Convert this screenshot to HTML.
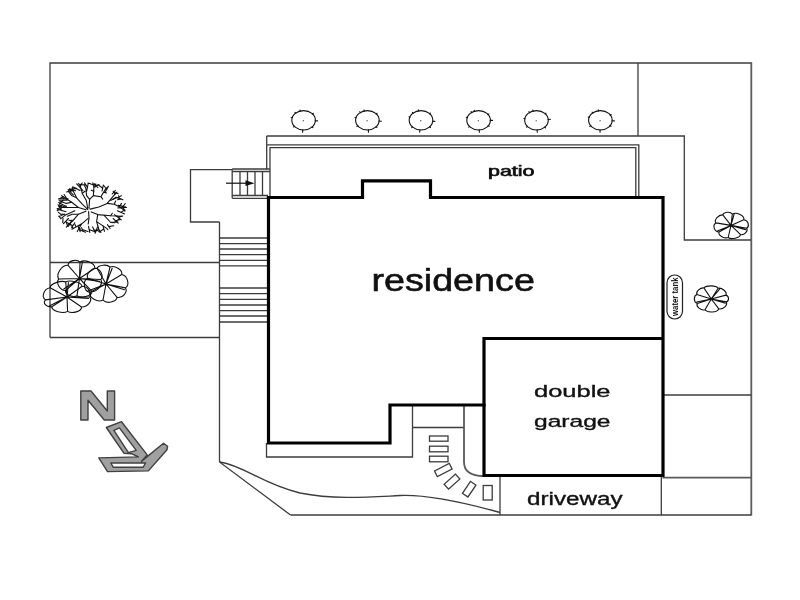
<!DOCTYPE html>
<html>
<head>
<meta charset="utf-8">
<title>Site plan</title>
<style>
html,body{margin:0;padding:0;background:#fff;}
body{width:800px;height:600px;overflow:hidden;font-family:"Liberation Sans",sans-serif;}
svg{display:block;}
text{font-family:"Liberation Sans",sans-serif;fill:#111;}
.t{stroke:#3c3c3c;stroke-width:1.3;fill:none;}
.g{stroke:#5a5a5a;stroke-width:1.8;fill:none;}
.k{stroke:#000;stroke-width:3.2;fill:none;stroke-linejoin:miter;stroke-linecap:square;}
.tr{stroke:#111;stroke-width:1.1;fill:none;stroke-linecap:round;stroke-linejoin:round;}
</style>
</head>
<body>
<svg width="800" height="600" viewBox="0 0 800 600">
<defs><filter id="gs" x="-5%" y="-20%" width="110%" height="140%" color-interpolation-filters="sRGB"><feColorMatrix type="saturate" values="0"/></filter></defs>
<rect width="800" height="600" fill="#fff"/>

<!-- site boundary -->
<g id="boundary">
<path class="t" stroke-width="1.5" d="M50 337.5V63H751.3"/>
<path class="g" stroke-width="2.2" stroke="#505050" d="M751.3 62.3V515.6"/>
<path class="t" d="M290.5 515H751.3"/>
<path class="t" d="M50 262.5H219.5"/>
<path class="t" d="M50 337.5H219.5"/>
<path class="t" d="M219.5 222V462L290.5 515"/>
<path class="t" d="M220 462C245 466 262 484 300 493C335 500 370 497 400 495.5C425 494.5 455 500 500 512.5"/>
</g>

<!-- right yard -->
<g id="rightyard">
<path class="t" d="M638 63V136"/>
<path class="t" d="M266.7 136H684.3V240H751"/>
<path class="t" d="M662.5 395H751"/>
<path class="g" d="M662.5 477.6H751"/>
<path class="t" d="M661.3 476V515"/>
<path class="t" d="M500 476V515"/>
</g>

<!-- patio -->
<g id="patio">
<path class="t" d="M266.7 169.5V136"/>
<path class="t" stroke="#666" d="M266.7 144.8H638.8V197"/>
<path class="t" stroke="#666" d="M270 197V147.6H635.8V197"/>
</g>

<!-- landing and stairs -->
<g id="landing">
<path class="t" d="M232 169.7H190.5V222H219.5"/>
<path class="t" d="M232.2 169H270M232.2 171.5H270M232.2 195.5H268M232.2 198.3H268"/>
<path class="t" d="M232.2 169V198.3M240 171.5V195.5M247.5 171.5V195.5M255 171.5V195.5M262.5 171.5V195.5"/>
<path d="M226 183.2H248" stroke="#111" stroke-width="1.2"/>
<path d="M245.5 180.3L254.5 183.2L245.5 186.1Z" fill="#111"/>
<path class="t" stroke-width="1.1" d="M219.5 238H267M219.5 243.7H267M219.5 249H267M219.5 254.6H267M219.5 260.4H267M219.5 265.8H267"/>
<path class="t" stroke-width="1.1" d="M219.5 288H267M219.5 293.7H267M219.5 299.4H267M219.5 305H267M219.5 316H267M219.5 322H267"/>
<path class="t" stroke-width="1.8" stroke="#222" d="M219.5 310.6H267"/>
</g>

<!-- front path -->
<g id="front">
<path class="t" d="M266.5 443V457H412.5V405"/>
<path class="t" d="M412.5 427.5H464"/>
<path class="g" stroke-width="1.9" stroke="#3c3c3c" d="M464 405V462C464 471 470 476 484 476"/>
<g class="t" stroke-width="1.35" stroke="#1c1c1c">
<rect x="429.5" y="436" width="18.5" height="5.2"/>
<rect x="429.5" y="446.2" width="18.5" height="5.6"/>
<rect x="429.5" y="456.2" width="18.5" height="5.6"/>
<rect x="-8.3" y="-3.1" width="16.6" height="6.2" transform="translate(443.3 470) rotate(-27)"/>
<rect x="-7.6" y="-3.3" width="15.2" height="6.6" transform="translate(452 481.6) rotate(-42)"/>
<rect x="-7.2" y="-3.3" width="14.4" height="6.6" transform="translate(469.2 489.2) rotate(-56)"/>
<rect x="483.2" y="485.5" width="9" height="14.5"/>
</g>
</g>

<!-- building outline -->
<g id="building">
<path class="k" d="M268.5 197.5H362.5V180.8H430.5V197.5H663V475.5H484V338.5H663"/>
<path class="k" d="M268.5 197.5V443H390V405H484"/>
</g>

<!-- labels -->
<g id="labels" filter="url(#gs)">
<text x="488" y="175.6" font-size="14.2" stroke="#111" stroke-width="0.65" textLength="46.5" lengthAdjust="spacingAndGlyphs">patio</text>
<text x="371.4" y="290.6" font-size="30.6" stroke="#111" stroke-width="0.55" textLength="163.5" lengthAdjust="spacingAndGlyphs">residence</text>
<text x="534" y="397" font-size="17.2" stroke="#111" stroke-width="0.35" textLength="76.5" lengthAdjust="spacingAndGlyphs">double</text>
<text x="534" y="426.5" font-size="17.2" stroke="#111" stroke-width="0.35" textLength="76.5" lengthAdjust="spacingAndGlyphs">garage</text>
<text x="527" y="505" font-size="17.5" stroke="#111" stroke-width="0.35" textLength="95.5" lengthAdjust="spacingAndGlyphs">driveway</text>
</g>

<!-- water tank -->
<g id="tank">
<rect x="667" y="275" width="15.5" height="44" rx="7.7" ry="7.7" fill="#fff" stroke="#222" stroke-width="1.2"/>
<text transform="translate(678 316) rotate(-90)" font-size="8.5" font-weight="bold" filter="url(#gs)" textLength="38.5" lengthAdjust="spacingAndGlyphs" fill="#222">water tank</text>
</g>

<!-- shrubs -->
<g transform="translate(303.6 120.3)">
<ellipse cx="0" cy="0" rx="11.8" ry="9.7" class="tr" stroke-width="1.5" stroke="#1a1a1a"/>
<circle cx="-0.3" cy="0.4" r="0.7" fill="#555"/>
<path d="M-0.8 9.5L-1.0 11.9M11.5 0.5L14.0 0.6M-9.0 6.0L-10.0 6.7M8.7 -6.2L9.7 -7.0M-11.2 -2.5L-12.4 -2.8M-3.2 -9.1L-3.6 -10.3M8.4 6.5L9.3 7.4M-7.8 -7.0L-8.6 -7.9" class="tr" stroke-width="1.7" stroke="#1a1a1a"/>
</g>
<g transform="translate(367.4 120.3)">
<ellipse cx="0" cy="0" rx="11.8" ry="9.7" class="tr" stroke-width="1.5" stroke="#1a1a1a"/>
<circle cx="-0.3" cy="0.4" r="0.7" fill="#555"/>
<path d="M0.9 9.5L1.1 11.9M11.5 0.7L14.0 0.9M-9.5 5.4L-10.5 6.1M8.7 -6.2L9.7 -7.0M-11.2 -2.5L-12.4 -2.8M-3.1 -9.2L-3.4 -10.3M8.6 6.3L9.5 7.1M-6.9 -7.6L-7.6 -8.6" class="tr" stroke-width="1.7" stroke="#1a1a1a"/>
</g>
<g transform="translate(421 120.3)">
<ellipse cx="0" cy="0" rx="11.8" ry="9.7" class="tr" stroke-width="1.5" stroke="#1a1a1a"/>
<circle cx="-0.3" cy="0.4" r="0.7" fill="#555"/>
<path d="M-1.1 9.5L-1.3 11.8M11.5 0.9L13.9 1.1M-8.4 6.5L-9.3 7.3M8.5 -6.5L9.4 -7.3M-10.9 -3.1L-12.1 -3.5M-2.4 -9.3L-2.7 -10.5M8.6 6.4L9.5 7.2M-7.8 -7.0L-8.6 -7.9" class="tr" stroke-width="1.7" stroke="#1a1a1a"/>
</g>
<g transform="translate(478.6 120.3)">
<ellipse cx="0" cy="0" rx="11.8" ry="9.7" class="tr" stroke-width="1.5" stroke="#1a1a1a"/>
<circle cx="-0.3" cy="0.4" r="0.7" fill="#555"/>
<path d="M0.6 9.5L0.8 11.9M11.6 0.1L14.0 0.1M-8.9 6.1L-9.9 6.8M9.3 -5.7L10.3 -6.4M-11.1 -2.7L-12.3 -3.0M-4.0 -8.9L-4.4 -10.0M9.6 5.3L10.6 6.0M-6.8 -7.7L-7.5 -8.7" class="tr" stroke-width="1.7" stroke="#1a1a1a"/>
</g>
<g transform="translate(536.5 120.3)">
<ellipse cx="0" cy="0" rx="11.8" ry="9.7" class="tr" stroke-width="1.5" stroke="#1a1a1a"/>
<circle cx="-0.3" cy="0.4" r="0.7" fill="#555"/>
<path d="M0.6 9.5L0.8 11.9M11.5 -0.8L14.0 -1.0M-9.0 6.0L-9.9 6.8M8.6 -6.4L9.5 -7.2M-11.4 -1.6L-12.6 -1.8M-3.2 -9.1L-3.6 -10.3M8.2 6.7L9.0 7.6M-6.9 -7.7L-7.6 -8.6" class="tr" stroke-width="1.7" stroke="#1a1a1a"/>
</g>
<g transform="translate(600.4 120.3)">
<ellipse cx="0" cy="0" rx="11.8" ry="9.7" class="tr" stroke-width="1.5" stroke="#1a1a1a"/>
<circle cx="-0.3" cy="0.4" r="0.7" fill="#555"/>
<path d="M-0.3 9.5L-0.4 11.9M11.5 0.5L14.0 0.6M-9.5 5.4L-10.6 6.1M9.7 -5.1L10.8 -5.8M-11.0 -2.9L-12.2 -3.3M-2.0 -9.4L-2.2 -10.5M9.5 5.4L10.6 6.0M-7.5 -7.2L-8.3 -8.1" class="tr" stroke-width="1.7" stroke="#1a1a1a"/>
</g>

<!-- trees -->
<path class="tr" stroke-width="1.4" d="M731.0 225.4L732.3 214.0M731.0 225.4L734.2 213.8M731.0 225.4L743.8 219.7M731.0 225.4L746.6 228.3M731.0 225.4L745.5 229.6M731.0 225.4L740.6 234.7M731.0 225.4L728.2 237.5M731.0 225.4L719.0 232.0M731.0 225.4L717.4 231.1M731.0 225.4L715.9 222.9M731.0 225.4L722.8 214.9M732.3 214.0C736.5 211.6 744.9 215.7 743.8 219.7M743.8 219.7C748.6 220.4 749.7 226.4 746.6 228.3M746.6 228.3C748.4 230.8 744.7 235.3 740.6 234.7M740.6 234.7C739.7 238.1 731.2 239.8 728.2 237.5M728.2 237.5C724.7 238.9 717.9 235.7 719.0 232.0M719.0 232.0C714.0 231.5 712.3 225.0 715.9 222.9M715.9 222.9C713.7 219.9 718.6 214.6 722.8 214.9M722.8 214.9C723.7 212.2 730.0 211.0 732.3 214.0"/><circle cx="731" cy="225.4" r="1.3" fill="#111"/>
<path class="tr" stroke-width="1.4" d="M711.3 299.0L718.1 288.2M711.3 299.0L719.6 289.1M711.3 299.0L725.9 295.1M711.3 299.0L726.2 301.9M711.3 299.0L725.4 303.2M711.3 299.0L718.8 308.9M711.3 299.0L705.0 309.8M711.3 299.0L697.3 303.4M711.3 299.0L696.7 302.0M711.3 299.0L696.9 294.4M711.3 299.0L703.9 287.9M718.1 288.2C722.1 287.4 727.4 292.1 725.9 295.1M725.9 295.1C729.2 296.1 729.5 300.7 726.2 301.9M726.2 301.9C728.1 304.8 723.3 309.9 718.8 308.9M718.8 308.9C717.1 312.6 707.3 313.0 705.0 309.8M705.0 309.8C701.0 310.9 695.7 306.5 697.3 303.4M697.3 303.4C693.4 302.0 693.4 295.8 696.9 294.4M696.9 294.4C695.6 291.6 700.4 287.4 703.9 287.9M703.9 287.9C706.3 285.2 715.9 285.1 718.1 288.2"/><circle cx="711.3" cy="299" r="1.3" fill="#111"/>
<path class="tr" stroke-width="1.3" d="M79.5 278.5L80.0 262.2M79.5 278.5L82.4 262.0M79.5 278.5L94.8 268.2M79.5 278.5L100.8 279.5M79.5 278.5L99.4 281.4M79.5 278.5L92.2 291.6M79.5 278.5L77.0 295.7M79.5 278.5L65.4 290.5M79.5 278.5L63.8 289.0M79.5 278.5L58.9 279.0M79.5 278.5L68.1 265.3M80.0 262.2C84.7 258.8 95.2 263.0 94.8 268.2M94.8 268.2C100.7 268.4 103.9 276.3 100.8 279.5M100.8 279.5C103.3 283.3 98.1 291.7 92.2 291.6M92.2 291.6C91.2 296.2 80.9 298.6 77.0 295.7M77.0 295.7C73.2 298.0 65.2 294.9 65.4 290.5M65.4 290.5C59.7 290.5 55.5 282.5 58.9 279.0M58.9 279.0C55.4 274.8 61.4 264.9 68.1 265.3M68.1 265.3C68.3 260.6 76.6 258.5 80.0 262.2"/><circle cx="79.5" cy="278.5" r="1.3" fill="#111"/>
<path class="tr" stroke-width="1.3" d="M106.0 284.0L110.0 267.1M106.0 284.0L112.2 268.2M106.0 284.0L121.7 274.5M106.0 284.0L125.4 287.9M106.0 284.0L124.5 289.8M106.0 284.0L117.1 297.4M106.0 284.0L103.0 300.0M106.0 284.0L89.7 292.4M106.0 284.0L88.0 290.9M106.0 284.0L87.9 278.2M106.0 284.0L97.0 268.3M110.0 267.1C114.5 265.1 122.9 269.7 121.7 274.5M121.7 274.5C127.8 275.6 130.0 285.0 125.4 287.9M125.4 287.9C128.1 291.8 122.7 298.5 117.1 297.4M117.1 297.4C116.2 302.2 106.3 304.2 103.0 300.0M103.0 300.0C97.9 303.0 88.3 297.6 89.7 292.4M89.7 292.4C83.5 290.9 82.3 280.7 87.9 278.2M87.9 278.2C85.3 273.8 92.1 267.5 97.0 268.3M97.0 268.3C98.7 264.8 107.3 263.9 110.0 267.1"/><circle cx="106" cy="284" r="1.3" fill="#111"/>
<path class="tr" stroke-width="1.3" d="M67.0 297.0L65.7 281.9M67.0 297.0L68.4 282.6M67.0 297.0L82.1 286.3M67.0 297.0L89.6 296.8M67.0 297.0L88.5 298.5M67.0 297.0L81.5 307.0M67.0 297.0L67.6 311.4M67.0 297.0L51.8 306.8M67.0 297.0L49.8 305.7M67.0 297.0L45.6 299.9M67.0 297.0L50.1 287.7M65.7 281.9C70.2 279.7 81.3 282.4 82.1 286.3M82.1 286.3C88.0 286.6 92.7 293.7 89.6 296.8M89.6 296.8C92.8 299.9 88.2 307.2 81.5 307.0M81.5 307.0C81.8 311.4 72.0 314.1 67.6 311.4M67.6 311.4C63.0 314.2 51.8 311.2 51.8 306.8M51.8 306.8C46.1 307.5 42.2 302.6 45.6 299.9M45.6 299.9C40.8 297.1 44.0 288.7 50.1 287.7M50.1 287.7C50.2 283.7 60.8 280.1 65.7 281.9"/><circle cx="67" cy="297" r="1.3" fill="#111"/>
<path class="tr" stroke="#0c0c0c" stroke-width="1.5" d="M117.9 207.9L126.5 207.5M122.2 207.7L125.2 203.5M117.4 210.8L124.6 213.9M121.1 212.2L124.7 209.9M114.5 214.6L121.3 219.9M118.1 217.1L122.8 216.0M113.1 218.5L118.2 223.1M115.7 220.7L120.4 219.5M111.4 222.3L117.8 221.9M114.5 222.2L119.8 218.4M107.4 224.6L110.1 228.5M108.8 226.6L113.7 225.7M103.1 226.1L104.5 231.3M103.9 228.7L99.3 232.1M97.6 226.8L95.1 233.3M96.6 230.1L100.2 232.0M92.6 227.1L95.3 232.5M93.8 229.8L100.2 231.2M88.5 226.4L89.8 232.4M89.0 229.4L94.9 231.7M81.6 227.6L82.9 231.4M82.2 229.5L88.0 231.6M78.4 227.1L80.2 231.8M79.1 229.4L85.5 232.2M74.8 222.7L71.6 227.7M73.1 225.2L68.2 224.8M71.9 220.0L68.5 226.2M70.0 223.0L73.0 228.2M68.5 218.5L63.5 223.7M65.9 221.0L67.7 226.4M64.5 214.1L59.0 216.4M61.8 215.2L58.4 212.4M66.1 211.7L57.6 209.2M61.8 210.7L58.5 205.4M66.5 206.7L58.7 202.5M62.5 204.9L58.6 206.4M66.1 205.8L57.1 208.8M61.5 207.0L58.0 204.9M67.1 200.2L59.9 200.2M63.5 200.1L59.4 204.0M68.0 198.9L58.8 198.7M63.5 198.7L61.8 195.4M73.3 194.8L68.1 189.6M70.6 192.2L72.7 187.6M75.5 190.8L69.9 188.9M72.7 189.7L66.6 191.9M80.0 190.4L72.7 186.7M76.5 188.4L68.9 189.5M82.9 190.7L76.7 183.8M80.0 187.2L82.1 182.9M87.5 187.4L84.5 182.9M86.1 185.1L79.5 184.4M95.3 187.0L95.8 183.8M95.6 185.4L90.6 184.0M97.9 187.6L94.1 183.5M96.2 185.5L99.1 184.6M102.1 190.9L103.2 185.5M102.8 188.2L98.1 184.8M105.0 192.5L108.4 186.3M106.8 189.5L103.3 185.0M112.2 194.0L115.4 190.4M113.9 192.2L118.2 193.7M112.7 199.4L121.4 195.8M117.1 197.6L122.9 199.7M117.5 199.8L121.4 199.0M119.5 199.4L118.6 195.8M118.4 205.4L125.7 207.1M122.1 206.1L124.8 211.0"/><path class="tr" stroke="#0c0c0c" stroke-width="2.1" d="M87.9 209.7L82.5 204.3L76.6 197.8L73.3 191.3L72.2 187.8M87.7 208.1L86.3 200.5L82.3 193.4L80.1 185.3M89.0 208.1L89.6 199.4L93.4 195.6L93.9 187.1L92.8 182.8M90.1 209.1L98.8 207.0L107.2 203.4L114.8 194.3L117.0 192.1M91.2 211.9L97.7 214.6L110.7 215.7L121.8 216.2M88.6 211.6L89.0 218.4L88.2 224.0M86.0 211.3L78.4 214.2L73.0 220.7L66.3 227.2M86.0 209.7L78.4 207.5L71.7 202.3L63.2 196.7"/><path class="tr" stroke="#0c0c0c" stroke-width="1.5" d="M93.4 195.6L100.9 196.7L105.5 189.1M100.9 196.7L102.7 199.1M89.6 199.4L86.6 195.6L85.8 188.0M85.8 188.0L84.5 185.8M87.9 183.1L90.3 183.5M86.6 191.3L88.2 183.5M107.2 203.4L114.2 204.3L119.4 206.7L125.0 210.8M110.7 200.5L116.1 197.2L119.4 198.3M114.2 204.3L115.7 201.0M119.4 206.7L121.5 203.4M114.8 194.3L113.1 191.3M97.7 214.6L96.6 221.6L98.8 229.2L94.7 231.6M96.6 221.6L106.4 228.1L107.9 229.6M104.2 215.3L110.7 222.5L114.6 222.7M98.8 229.2L100.9 232.5M110.7 215.7L112.3 213.2M117.2 216.0L119.4 218.4M88.2 218.4L81.7 223.8L71.9 229.2M81.7 223.8L77.3 231.6M78.4 226.8L80.4 229.2M76.0 226.8L74.9 224.4M78.4 214.2L72.2 214.2L67.3 216.2M73.0 220.7L69.0 220.3M69.5 224.0L67.3 222.7M78.4 207.5L71.7 207.5L62.1 207.5L57.2 210.8M74.9 210.8L65.4 215.1L60.8 218.6M71.7 202.3L66.3 203.4L59.1 200.8M67.3 199.4L64.1 194.5M63.2 196.7L58.9 199.1M62.1 207.5L59.8 204.8M65.4 215.1L61.9 214.0M63.0 218.4L62.8 222.7M60.8 218.6L58.9 216.2M76.6 197.8L71.7 195.6L68.4 191.3M73.3 191.3L69.5 188.9M82.3 193.4L84.9 191.3M80.1 185.3L78.4 183.7M93.9 187.1L97.7 185.3M93.9 191.3L91.2 190.2M105.5 189.1L107.5 187.1M103.7 192.3L106.4 192.9"/>

<!-- north arrow -->
<g id="north" fill="#a0a0a0" stroke="#404040" stroke-width="1.4" stroke-linejoin="round">
<path d="M80.8 391H91L107.3 411V391H114.6V420H104.3L88 400.2V420H80.8Z"/>
<path fill-rule="evenodd" d="M106.3 427.5L121.5 421.7L147.2 454.9L141.4 461.4L163.5 443.3L167.6 446.2L167 449.7L148.4 470.9L107.5 471.6L98.8 457.9L138.4 456.9L132 453.8L123.9 453.2Z
M113.9 430.4L119.4 427.9L136.2 450.4L128.4 452.6Z
M110.8 463H145.6L143.2 467.2H113.2Z"/>
</g>

</svg>
</body>
</html>
